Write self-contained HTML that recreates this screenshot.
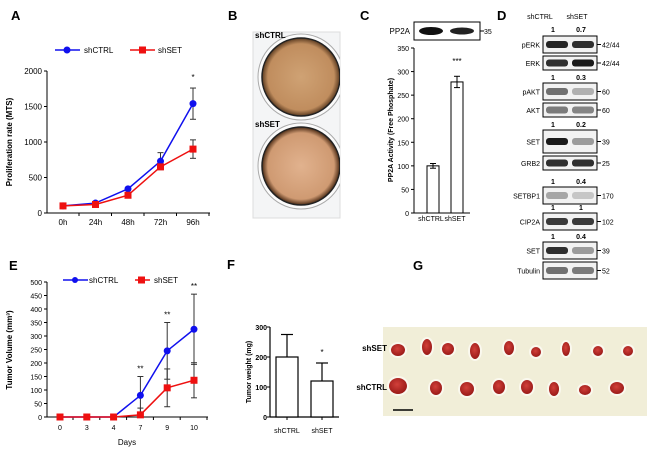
<!DOCTYPE html>
<html><head><meta charset="utf-8"><style>
html,body{margin:0;padding:0;background:#fff;}
svg{display:block;font-family:"Liberation Sans",Arial,sans-serif;}
</style></head><body>
<svg id="fig" width="650" height="451" viewBox="0 0 650 451">
<defs>
<radialGradient id="plateA" cx="50%" cy="50%" r="50%"><stop offset="0" stop-color="#cfa274"/><stop offset="0.85" stop-color="#c08d5e"/><stop offset="1" stop-color="#5a3a20"/></radialGradient>
<radialGradient id="plateB" cx="50%" cy="50%" r="50%"><stop offset="0" stop-color="#e1b28e"/><stop offset="0.85" stop-color="#cf9a72"/><stop offset="1" stop-color="#4a2a14"/></radialGradient>
<radialGradient id="tum" cx="45%" cy="40%" r="60%"><stop offset="0" stop-color="#d2403a"/><stop offset="1" stop-color="#9a1a18"/></radialGradient>
<clipPath id="plateClip"><rect x="253" y="32" width="87" height="186"/></clipPath>
</defs>
<g font-weight="bold" font-size="13" fill="#000">
<text x="11" y="20">A</text>
<text x="228" y="20">B</text>
<text x="360" y="20">C</text>
<text x="497" y="20">D</text>
<text x="9" y="270">E</text>
<text x="227" y="269">F</text>
<text x="413" y="270">G</text>
</g>
<g id="panelA"></g>
<g id="panelB">
<rect x="253" y="32" width="87" height="186" fill="#f4f5f6" stroke="#ddd"/>
<g clip-path="url(#plateClip)">
<circle cx="301" cy="77" r="43" fill="#fbfbfb" stroke="#aaa"/>
<circle cx="301" cy="166" r="43" fill="#fbfbfb" stroke="#aaa"/>
<circle cx="301" cy="77" r="39" fill="url(#plateA)" stroke="#222" stroke-width="1.5"/>
<circle cx="301" cy="166" r="39" fill="url(#plateB)" stroke="#222" stroke-width="1.5"/>
</g>
<text x="255" y="38" font-size="8" font-weight="bold">shCTRL</text>
<text x="255" y="127" font-size="8" font-weight="bold">shSET</text>
</g>
<g id="panelC"></g>
<g id="panelD"></g>
<g id="panelE"></g>
<g id="panelF"></g>
<g id="panelG">
<rect x="383" y="327" width="264" height="89" fill="#f1eed8"/>
<text x="387" y="351" font-size="8" font-weight="bold" text-anchor="end">shSET</text>
<text x="387" y="390" font-size="8" font-weight="bold" text-anchor="end">shCTRL</text>
<line x1="393" y1="410" x2="413" y2="410" stroke="#000" stroke-width="1.5"/>
</g>
</svg>
<script>
// Panel A data
const aCats=["0h","24h","48h","72h","96h"];
const aCtrl=[100,140,340,730,1540];
const aCtrlErr=[0,10,20,120,220];
const aSet=[100,120,250,650,900];
const aSetErr=[0,10,20,30,130];
const aTicks=[0,500,1000,1500,2000];
// Panel C data
const cCats=["shCTRL","shSET"];
const cVals=[100,278];
const cErr=[5,12];
const cTicks=[0,50,100,150,200,250,300,350];
// Panel E data
const eCats=["0","3","4","7","9","10"];
const eCtrl=[0,0,0,80,245,325];
const eCtrlErr=[0,0,0,70,105,130];
const eSet=[0,0,0,8,108,136];
const eSetErr=[0,0,0,25,70,65];
const eTicks=[0,50,100,150,200,250,300,350,400,450,500];
const eSig=["","","","**","**","**"];
// Panel F data
const fCats=["shCTRL","shSET"];
const fVals=[200,120];
const fErr=[75,60];
const fTicks=[0,100,200,300];

const NS="http://www.w3.org/2000/svg";
function mk(parent,tag,attrs,text){const e=document.createElementNS(NS,tag);for(const k in attrs)e.setAttribute(k,attrs[k]);if(text!==undefined)e.textContent=text;parent.appendChild(e);return e;}

// ---------- Panel A ----------
(function(){
const g=document.getElementById('panelA');
const yA=v=>213-v/2000*142, xA=i=>63+i*32.5;
mk(g,'line',{x1:47,y1:71,x2:47,y2:213,stroke:'#000'});
mk(g,'line',{x1:47,y1:213,x2:210,y2:213,stroke:'#000'});
aTicks.forEach(t=>{mk(g,'line',{x1:44,y1:yA(t),x2:47,y2:yA(t),stroke:'#000'});
 const tx=mk(g,'text',{x:42,y:yA(t)+3,'font-size':8,'text-anchor':'end'},t);
 
 });
aCats.forEach((c,i)=>{mk(g,'line',{x1:xA(i)+16,y1:213,x2:xA(i)+16,y2:216,stroke:'#000'});
 const tx=mk(g,'text',{x:xA(i),y:225,'font-size':8,'text-anchor':'middle'},c);
 
 });
const yt=mk(g,'text',{x:0,y:0,'font-size':8,'font-weight':'bold','text-anchor':'middle',transform:'translate(12,142) rotate(-90)'},'Proliferation rate (MTS)');


function series(vals,errs,col,sq,name){
 vals.forEach((v,i)=>{if(errs[i]>0){mk(g,'line',{x1:xA(i),y1:yA(v-errs[i]),x2:xA(i),y2:yA(v+errs[i]),stroke:'#333'});
  mk(g,'line',{x1:xA(i)-3,y1:yA(v+errs[i]),x2:xA(i)+3,y2:yA(v+errs[i]),stroke:'#333'});
  mk(g,'line',{x1:xA(i)-3,y1:yA(v-errs[i]),x2:xA(i)+3,y2:yA(v-errs[i]),stroke:'#333'});}});
 const l=mk(g,'polyline',{points:vals.map((v,i)=>xA(i)+','+yA(v)).join(' '),fill:'none',stroke:col,'stroke-width':1.5});
 
 
 vals.forEach((v,i)=>{const p=sq?mk(g,'rect',{x:xA(i)-3.5,y:yA(v)-3.5,width:7,height:7,fill:col}):mk(g,'circle',{cx:xA(i),cy:yA(v),r:3.5,fill:col});
  
  });
}
series(aCtrl,aCtrlErr,'#1010ee',false,'shctrl');
series(aSet,aSetErr,'#ee1010',true,'shset');
mk(g,'text',{x:xA(4),y:80,'font-size':8,'text-anchor':'middle'},'*');
mk(g,'line',{x1:55,y1:50,x2:80,y2:50,stroke:'#1010ee','stroke-width':1.5});mk(g,'circle',{cx:67,cy:50,r:3.5,fill:'#1010ee'});
mk(g,'text',{x:84,y:53,'font-size':8},'shCTRL');
mk(g,'line',{x1:130,y1:50,x2:155,y2:50,stroke:'#ee1010','stroke-width':1.5});mk(g,'rect',{x:139,y:46.5,width:7,height:7,fill:'#ee1010'});
mk(g,'text',{x:158,y:53,'font-size':8},'shSET');
})();

// ---------- Panel C ----------
(function(){
const g=document.getElementById('panelC');
const yC=v=>213-v/350*165, xC=i=>433+i*24;
mk(g,'rect',{x:414,y:22,width:66,height:18,fill:'#fff',stroke:'#000'});
mk(g,'ellipse',{cx:431,cy:31,rx:12,ry:4,fill:'#111'});
mk(g,'ellipse',{cx:462,cy:31,rx:12,ry:3.5,fill:'#222'});
mk(g,'text',{x:410,y:34,'font-size':8,'text-anchor':'end'},'PP2A');
mk(g,'line',{x1:480,y1:31,x2:484,y2:31,stroke:'#000'});
mk(g,'text',{x:484,y:34,'font-size':7},'35');
mk(g,'line',{x1:414,y1:48,x2:414,y2:213,stroke:'#000'});
mk(g,'line',{x1:414,y1:213,x2:470,y2:213,stroke:'#000'});
cTicks.forEach(t=>{mk(g,'line',{x1:411,y1:yC(t),x2:414,y2:yC(t),stroke:'#000'});
 const tx=mk(g,'text',{x:409,y:yC(t)+3,'font-size':7,'text-anchor':'end'},t);
 
 });
cVals.forEach((v,i)=>{const b=mk(g,'rect',{x:xC(i)-6,y:yC(v),width:12,height:213-yC(v),fill:'#fff',stroke:'#000'});
 
 
 mk(g,'line',{x1:xC(i),y1:yC(v-cErr[i]),x2:xC(i),y2:yC(v+cErr[i]),stroke:'#000'});
 mk(g,'line',{x1:xC(i)-3,y1:yC(v+cErr[i]),x2:xC(i)+3,y2:yC(v+cErr[i]),stroke:'#000'});
 mk(g,'line',{x1:xC(i)-3,y1:yC(v-cErr[i]),x2:xC(i)+3,y2:yC(v-cErr[i]),stroke:'#000'});
 mk(g,'text',{x:xC(i)-2,y:221,'font-size':7,'text-anchor':'middle'},cCats[i]);});
mk(g,'text',{x:xC(1),y:64,'font-size':8,'text-anchor':'middle'},'***');
mk(g,'text',{x:0,y:0,'font-size':7,'font-weight':'bold','text-anchor':'middle',transform:'translate(393,130) rotate(-90)'},'PP2A Activity (Free Phosphate)');
})();

// ---------- Panel D ----------
(function(){
const g=document.getElementById('panelD');
mk(g,'text',{x:540,y:19,'font-size':7,'text-anchor':'middle'},'shCTRL');
mk(g,'text',{x:577,y:19,'font-size':7,'text-anchor':'middle'},'shSET');
const blots=[["pERK",36,17,"42/44",[0.9,0.85]],["ERK",56,14,"42/44",[0.85,0.95]],["pAKT",83,17,"60",[0.55,0.25]],["AKT",103,14,"60",[0.5,0.45]],["SET",130,23,"39",[0.95,0.35]],["GRB2",156,14,"25",[0.85,0.85]],["SETBP1",187,17,"170",[0.3,0.15]],["CIP2A",213,17,"102",[0.8,0.8]],["SET",242,17,"39",[0.85,0.35]],["Tubulin",262,17,"52",[0.55,0.5]]];
const quant=[["1","0.7",32],["1","0.3",80],["1","0.2",127],["1","0.4",184],["1","1",210],["1","0.4",239]];
quant.forEach(q=>{mk(g,'text',{x:553,y:q[2],'font-size':7,'font-weight':'bold','text-anchor':'middle'},q[0]);
 mk(g,'text',{x:581,y:q[2],'font-size':7,'font-weight':'bold','text-anchor':'middle'},q[1]);});
blots.forEach(b=>{const [nm,y,h,mw,ints]=b;
 const r=mk(g,'rect',{x:543,y:y,width:54,height:h,fill:'#f2f2f2',stroke:'#000'});
 
 
 ints.forEach((v,i)=>{const c=Math.round(230-v*215);mk(g,'rect',{x:546+i*26,y:y+h/2-3.5,width:22,height:7,rx:3,fill:`rgb(${c},${c},${c})`});});
 mk(g,'text',{x:540,y:y+h/2+3,'font-size':7,'text-anchor':'end'},nm);
 mk(g,'line',{x1:597,y1:y+h/2,x2:601,y2:y+h/2,stroke:'#000'});
 mk(g,'text',{x:602,y:y+h/2+3,'font-size':7},mw);});
})();

// ---------- Panel E ----------
(function(){
const g=document.getElementById('panelE');
const yE=v=>417-v/500*135, xE=i=>60+i*26.8;
mk(g,'line',{x1:47,y1:282,x2:47,y2:417,stroke:'#000'});
mk(g,'line',{x1:47,y1:417,x2:208,y2:417,stroke:'#000'});
eTicks.forEach(t=>{mk(g,'line',{x1:44,y1:yE(t),x2:47,y2:yE(t),stroke:'#000'});
 const tx=mk(g,'text',{x:42,y:yE(t)+3,'font-size':7,'text-anchor':'end'},t);
 
 });
eCats.forEach((c,i)=>{mk(g,'line',{x1:xE(i)+13,y1:417,x2:xE(i)+13,y2:420,stroke:'#000'});
 mk(g,'text',{x:xE(i),y:430,'font-size':7,'text-anchor':'middle'},c);
 if(eSig[i])mk(g,'text',{x:xE(i),y:yE(eCtrl[i]+eCtrlErr[i])-5,'font-size':8,'text-anchor':'middle'},eSig[i]);});
mk(g,'text',{x:127,y:445,'font-size':8,'text-anchor':'middle'},'Days');
mk(g,'text',{x:0,y:0,'font-size':8,'font-weight':'bold','text-anchor':'middle',transform:'translate(12,350) rotate(-90)'},'Tumor Volume (mm³)');
function series(vals,errs,col,sq,name){
 vals.forEach((v,i)=>{if(errs[i]>0){mk(g,'line',{x1:xE(i),y1:yE(Math.max(0,v-errs[i])),x2:xE(i),y2:yE(v+errs[i]),stroke:'#333'});
  mk(g,'line',{x1:xE(i)-3,y1:yE(v+errs[i]),x2:xE(i)+3,y2:yE(v+errs[i]),stroke:'#333'});
  mk(g,'line',{x1:xE(i)-3,y1:yE(Math.max(0,v-errs[i])),x2:xE(i)+3,y2:yE(Math.max(0,v-errs[i])),stroke:'#333'});}});
 const l=mk(g,'polyline',{points:vals.map((v,i)=>xE(i)+','+yE(v)).join(' '),fill:'none',stroke:col,'stroke-width':1.5});
 
 
 vals.forEach((v,i)=>{const p=sq?mk(g,'rect',{x:xE(i)-3.5,y:yE(v)-3.5,width:7,height:7,fill:col}):mk(g,'circle',{cx:xE(i),cy:yE(v),r:3.5,fill:col});
  
  });
}
series(eCtrl,eCtrlErr,'#1010ee',false,'shctrl');
series(eSet,eSetErr,'#ee1010',true,'shset');
mk(g,'line',{x1:63,y1:280,x2:88,y2:280,stroke:'#1010ee','stroke-width':1.5});mk(g,'circle',{cx:75,cy:280,r:3,fill:'#1010ee'});
mk(g,'text',{x:89,y:283,'font-size':8},'shCTRL');
mk(g,'line',{x1:135,y1:280,x2:150,y2:280,stroke:'#ee1010','stroke-width':1.5});mk(g,'rect',{x:138,y:276.5,width:7,height:7,fill:'#ee1010'});
mk(g,'text',{x:154,y:283,'font-size':8},'shSET');
})();

// ---------- Panel F ----------
(function(){
const g=document.getElementById('panelF');
const yF=v=>417-v/300*90, xF=i=>287+i*35;
mk(g,'line',{x1:270,y1:327,x2:270,y2:417,stroke:'#000','stroke-width':1.2});
mk(g,'line',{x1:270,y1:417,x2:339,y2:417,stroke:'#000','stroke-width':1.2});
fTicks.forEach(t=>{mk(g,'line',{x1:267,y1:yF(t),x2:270,y2:yF(t),stroke:'#000'});
 mk(g,'text',{x:267,y:yF(t)+3,'font-size':7,'font-weight':'bold','text-anchor':'end'},t);});
fVals.forEach((v,i)=>{mk(g,'line',{x1:xF(i),y1:yF(v),x2:xF(i),y2:yF(v+fErr[i]),stroke:'#000','stroke-width':1.2});
 mk(g,'line',{x1:xF(i)-6,y1:yF(v+fErr[i]),x2:xF(i)+6,y2:yF(v+fErr[i]),stroke:'#000','stroke-width':1.2});
 const b=mk(g,'rect',{x:xF(i)-11,y:yF(v),width:22,height:417-yF(v),fill:'#fff',stroke:'#000','stroke-width':1.2});
 
 
 mk(g,'line',{x1:xF(i),y1:417,x2:xF(i),y2:420,stroke:'#000'});
 mk(g,'text',{x:xF(i),y:433,'font-size':7,'text-anchor':'middle'},fCats[i]);});
mk(g,'text',{x:xF(1),y:yF(fVals[1]+fErr[1])-8,'font-size':8,'text-anchor':'middle'},'*');
mk(g,'text',{x:0,y:0,'font-size':7,'font-weight':'bold','text-anchor':'middle',transform:'translate(251,372) rotate(-90)'},'Tumor weight (mg)');
})();

// ---------- Panel G tumors ----------
(function(){
const g=document.getElementById('panelG');
const row1=[[398,350,7,6],[427,347,5,8],[448,349,6,6],[475,351,5,8],[509,348,5,7],[536,352,5,5],[566,349,4,7],[598,351,5,5],[628,351,5,5]];
const row2=[[398,386,9,8],[436,388,6,7],[467,389,7,7],[499,387,6,7],[527,387,6,7],[554,389,5,7],[585,390,6,5],[617,388,7,6]];
row1.concat(row2).forEach(t=>{mk(g,'ellipse',{cx:t[0],cy:t[1],rx:t[2]+2,ry:t[3]+2,fill:'#faf8ee'});
 const e=mk(g,'ellipse',{cx:t[0],cy:t[1],rx:t[2],ry:t[3],fill:'url(#tum)'});
 
 });
})();
</script>
</body></html>
